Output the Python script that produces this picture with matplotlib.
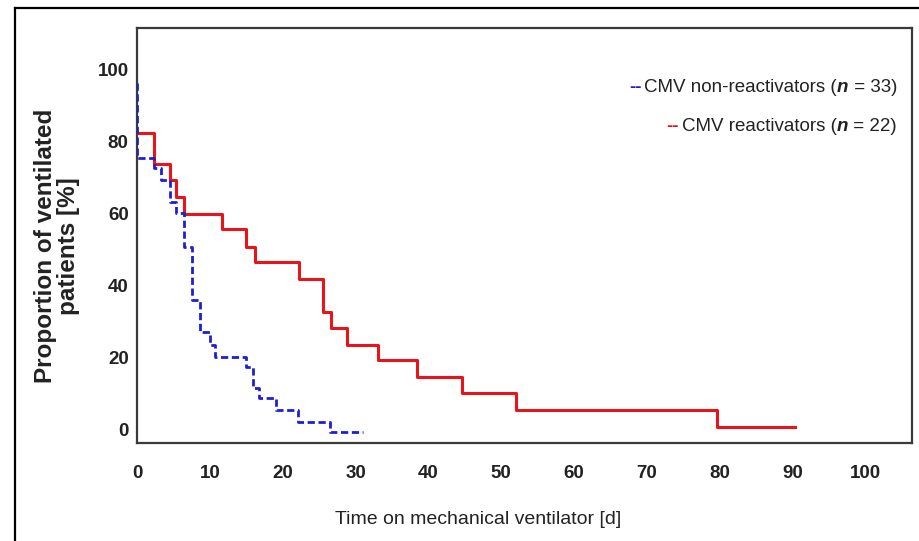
import matplotlib
matplotlib.use("Agg")
import matplotlib.pyplot as plt
from matplotlib.lines import Line2D

# Kaplan-Meier style curves
days_non = [0, 0, 2.4, 3.3, 4.5, 5.4, 6.5, 7.5, 8.6, 10.0, 10.7, 15.0, 15.9, 16.8, 19.1, 22.1, 26.5, 31.0]
pct_non = [96.3, 75.4, 72.6, 69.3, 63.3, 60.1, 50.8, 36.0, 27.2, 23.5, 20.3, 17.5, 11.5, 8.7, 5.5, 2.2, -0.5, -0.5]

days_re = [0, 2.4, 4.5, 5.4, 6.4, 11.7, 15.0, 16.2, 22.3, 25.6, 26.7, 28.8, 33.1, 38.4, 44.6, 52.0, 79.6, 90.4]
pct_re = [82.5, 73.8, 69.3, 64.7, 59.9, 55.7, 50.8, 46.6, 41.8, 32.8, 28.2, 23.5, 19.4, 14.6, 10.3, 5.5, 0.8, 0.8]

x_ticks = [0, 10, 20, 30, 40, 50, 60, 70, 80, 90, 100]
y_ticks = [0, 20, 40, 60, 80, 100]

label_non = ["CMV non-reactivators (", "n", " = 33)"]
label_re = ["CMV reactivators (", "n", " = 22)"]

blue = "#1f1fd2"
red = "#e8141c"
font = ["Liberation Sans", "DejaVu Sans"]
plt.rcParams["font.family"] = font

W, H = 920, 541
fig = plt.figure(figsize=(W / 100, H / 100), dpi=100)
ax = fig.add_axes([137 / W, 1 - 443 / H, 775 / W, 415 / H])

ax.step(days_re, pct_re, where="post", color=red, lw=2.2, zorder=3)
ax.step(days_non, pct_non, where="post", color=blue, lw=2.0,
        dashes=(2.6, 1.3), zorder=4)

ax.set_xlim(0, 106.4)
ax.set_ylim(-3.66, 111.5)
ax.set_xticks(x_ticks)
ax.set_yticks(y_ticks)
ax.set_xticklabels([str(v) for v in x_ticks], fontweight="bold",
                   fontsize=13.5, color="#222222")
ax.set_yticklabels([str(v) for v in y_ticks], fontweight="bold",
                   fontsize=13.5, color="#222222")
ax.tick_params(axis="x", length=0, pad=16)
ax.tick_params(axis="y", length=0, pad=6)
for s in ax.spines.values():
    s.set_color("#3a3a3a")
    s.set_linewidth(1.6)

fig.text(57 / W, 1 - 246 / H, "Proportion of ventilated\npatients [%]",
         rotation=90, ha="center", va="center", ma="center",
         fontsize=17.5, fontweight="bold", color="#222222", linespacing=1.0)
fig.text(478 / W, 1 - 519 / H, "Time on mechanical ventilator [d]",
         ha="center", va="center", fontsize=14, color="#222222")

# legend rows, right aligned, built from pieces
fig.canvas.draw()
renderer = fig.canvas.get_renderer()


def legend_row(pieces, color, right_px, y_px):
    styles = [dict(), dict(fontweight="bold", fontstyle="italic"), dict()]
    texts = []
    for p, st in zip(pieces, styles):
        t = fig.text(0, 1 - y_px / H, p, ha="left", va="center",
                     fontsize=13.5, color="#222222", **st)
        texts.append(t)
    widths = [t.get_window_extent(renderer).width for t in texts]
    x = right_px - sum(widths)
    start = x
    for t, w in zip(texts, widths):
        t.set_x(x / W)
        x += w
    fig.text((start - 3) / W, 1 - y_px / H, "--", ha="right", va="center",
             fontsize=13.5, color=color, fontweight="bold")


legend_row(label_non, blue, 897, 87)
legend_row(label_re, red, 897, 126)

# outer frame of the picture
fig.add_artist(Line2D([15 / W, 15 / W], [0, 1 - 7.5 / H], color="black", lw=1.6))
fig.add_artist(Line2D([15 / W, 1], [1 - 7.5 / H, 1 - 7.5 / H], color="black", lw=1.6))

fig.savefig("out.png", dpi=100, facecolor="white")
